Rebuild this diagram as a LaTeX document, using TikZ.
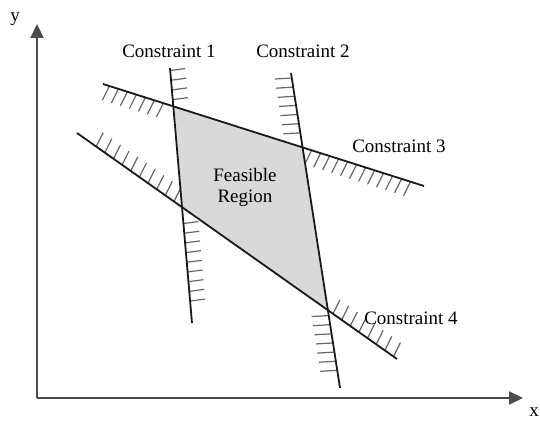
\documentclass[tikz,border=0pt]{standalone}
\usepackage{fontspec}
\setmainfont{Liberation Serif}
\usetikzlibrary{arrows.meta,calc}
\begin{document}
\begin{tikzpicture}[x=1pt,y=-1pt,
  cline/.style={draw=black!90,line width=1.8pt},
  hatchline/.style={draw=black!60,line width=1.2pt},
  axisline/.style={draw=black!70,line width=2.2pt,-{Triangle[length=14pt,width=13pt]}},
  lbl/.style={font=\fontsize{19}{21}\selectfont,inner sep=0pt,text=black},
  region/.style={fill=black!15}]
\useasboundingbox (0,0) rectangle (540,422);
% endpoints
\coordinate (c1a) at (170,68);  \coordinate (c1b) at (192,323);
\coordinate (c2a) at (291,73);  \coordinate (c2b) at (340,388);
\coordinate (c3a) at (103,84);  \coordinate (c3b) at (424,186);
\coordinate (c4a) at (77,133);  \coordinate (c4b) at (397,359);
\coordinate (p13) at (intersection of c1a--c1b and c3a--c3b);
\coordinate (p23) at (intersection of c2a--c2b and c3a--c3b);
\coordinate (p24) at (intersection of c2a--c2b and c4a--c4b);
\coordinate (p14) at (intersection of c1a--c1b and c4a--c4b);
% feasible region
\fill[region] (p13) -- (p23) -- (p24) -- (p14) -- cycle;
% hatches
\foreach \t in {0.01,0.048,...,0.16} {\draw[hatchline] ($(c1a)!\t!(c1b)$) -- ++(15,-2);}
\foreach \t in {0.61,0.648,...,0.95} {\draw[hatchline] ($(c1a)!\t!(c1b)$) -- ++(15,-2);}
\foreach \t in {0.016,0.045,...,0.2} {\draw[hatchline] ($(c2a)!\t!(c2b)$) -- ++(-17,1);}
\foreach \t in {0.77,0.799,...,0.97} {\draw[hatchline] ($(c2a)!\t!(c2b)$) -- ++(-17,1);}
\foreach \t in {0.02,0.048,...,0.215} {\draw[hatchline] ($(c3a)!\t!(c3b)$) -- ++(-7,14);}
\foreach \t in {0.65,0.678,...,0.975} {\draw[hatchline] ($(c3a)!\t!(c3b)$) -- ++(-7,14);}
\foreach \t in {0.06,0.087,...,0.31} {\draw[hatchline] ($(c4a)!\t!(c4b)$) -- ++(7,-14);}
\foreach \t in {0.8,0.827,...,0.99} {\draw[hatchline] ($(c4a)!\t!(c4b)$) -- ++(7,-14);}
% constraint lines
\draw[cline] (c1a) -- (c1b);
\draw[cline] (c2a) -- (c2b);
\draw[cline] (c3a) -- (c3b);
\draw[cline] (c4a) -- (c4b);
% axes
\coordinate (o) at (37,398);
\coordinate (xe) at (523,398);
\coordinate (ye) at (37,24);
\draw[axisline] (o) -- (xe);
\draw[axisline] (o) -- (ye);
\node[lbl] (xl) at (534,412) {x};
\node[lbl] (yl) at (15,19) {y};
% labels
\node[lbl] (l1) at (169,51) {Constraint 1};
\node[lbl] (l2) at (303,51) {Constraint 2};
\node[lbl] (l3) at (399,146) {Constraint 3};
\node[lbl] (l4) at (411,318) {Constraint 4};
\node[lbl,align=center] (fr) at (245,187) {Feasible\\Region};
\end{tikzpicture}
\end{document}
